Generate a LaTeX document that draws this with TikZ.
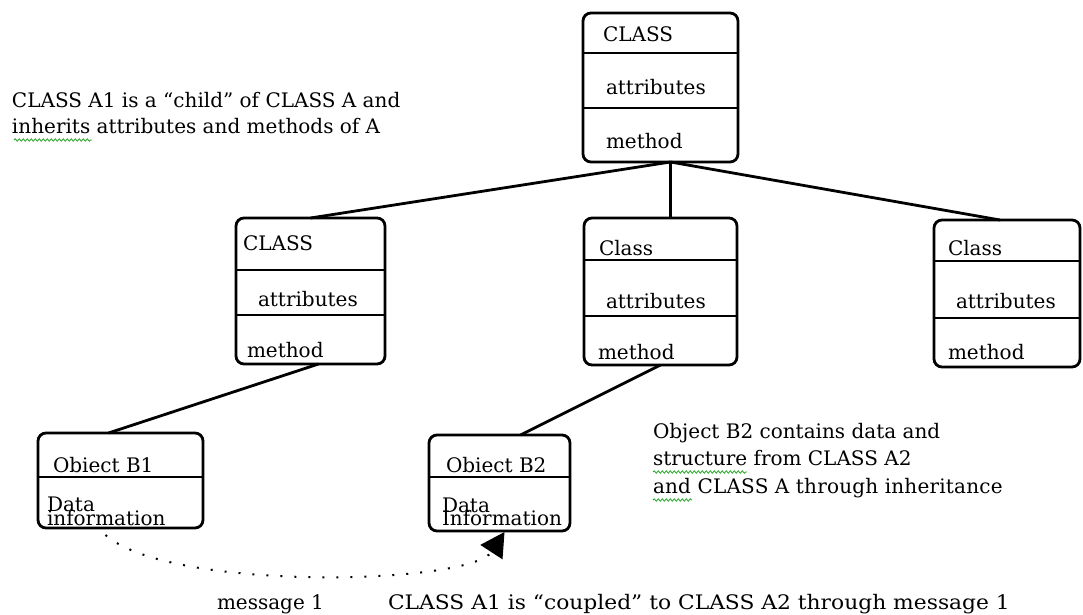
\documentclass[tikz,border=0pt]{standalone}
\usepackage{fontspec}
\setmainfont{DejaVu Serif}
\usetikzlibrary{arrows.meta,calc,decorations.pathmorphing}
\definecolor{spell}{RGB}{40,165,40}
\begin{document}
\begin{tikzpicture}[x=1pt,y=-1pt,
  every node/.style={font=\fontsize{20}{22}\selectfont, inner sep=0pt, outer sep=0pt, anchor=base west},
  box/.style={draw, line width=2.8pt, rounded corners=8pt, anchor=north west, minimum width=#1},
  divider/.style={line width=2.8pt},
  link/.style={line width=2.8pt},
  msg/.style={line width=2pt, dash pattern=on 2pt off 12pt, -{Triangle[length=24pt,width=26pt]}},
  squiggle/.style={spell, line width=0.8pt, decorate, decoration={snake, amplitude=1.2pt, segment length=4pt}}]
\useasboundingbox (0,0) rectangle (1083,615);

% class boxes
\node[box=155pt, minimum height=149pt] (A)  at (583,13)  {};
\node[box=149pt, minimum height=146pt] (A1) at (236,218) {};
\node[box=153pt, minimum height=147pt] (A2) at (584,218) {};
\node[box=146pt, minimum height=147pt] (A3) at (934,220) {};
% object boxes
\node[box=165pt, minimum height=95pt] (B1) at (38,433)  {};
\node[box=141pt, minimum height=96pt] (B2) at (429,435) {};

% compartment dividers
\draw[divider] (A.west |- 0,53)  -- (A.east |- 0,53);
\draw[divider] (A.west |- 0,108) -- (A.east |- 0,108);
\draw[divider] (A1.west |- 0,270) -- (A1.east |- 0,270);
\draw[divider] (A1.west |- 0,315) -- (A1.east |- 0,315);
\draw[divider] (A2.west |- 0,260) -- (A2.east |- 0,260);
\draw[divider] (A2.west |- 0,316) -- (A2.east |- 0,316);
\draw[divider] (A3.west |- 0,261) -- (A3.east |- 0,261);
\draw[divider] (A3.west |- 0,318) -- (A3.east |- 0,318);
\draw[divider] (B1.west |- 0,477) -- (B1.east |- 0,477);
\draw[divider] (B2.west |- 0,477) -- (B2.east |- 0,477);

% compartment texts
\node (At)  at (603,42)  {CLASS};
\node (Aa)  at (606,95)  {attributes};
\node (Am)  at (606,148) {method};
\node (A1t) at (243,250) {CLASS};
\node (A1a) at (258,306) {attributes};
\node (A1m) at (247,357) {method};
\node (A2t) at (599,255) {Class};
\node (A2a) at (606,308) {attributes};
\node (A2m) at (598,359) {method};
\node (A3t) at (948,255) {Class};
\node (A3a) at (956,308) {attributes};
\node (A3m) at (948,359) {method};
\node (B1t) at (53,472)  {Obiect B1};
\node (B1d) at (47,511)  {Data};
\node (B1i) at (47,525)  {information};
\node (B2t) at (446,472) {Obiect B2};
\node (B2d) at (442,512) {Data};
\node (B2i) at (442,525) {Information};

% inheritance links
\coordinate (J) at ($(A.south)+(10,0)$);
\draw[link] (J) -- (A1.north);
\draw[link] (J) -- ($(A2.north)+(10,0)$);
\draw[link] (J) -- ($(A3.north)+(-7,0)$);
\draw[link] ($(A1.south)+(8,0)$) -- ($(B1.north)+(-12,0)$);
\draw[link] (A2.south) -- ($(B2.north)+(21,0)$);

% message between the objects
\coordinate (m0) at ($(B1.south)+(-15,7)$);
\coordinate (m1) at ($(B2.south)+(5,1)$);
\draw[msg] (m0) .. controls (170,592) and (470,585) .. (m1);

% notes
\node (n1) at (12,107) {CLASS A1 is a “child” of CLASS A and};
\node (n2) at (12,133) {inherits attributes and methods of A};
\node (n3) at (653,438) {Object B2 contains data and};
\node (n4) at (653,465) {structure from CLASS A2};
\node (n5) at (653,493) {\addfontfeature{LetterSpace=1}and CLASS A through inheritance};
\node (n6) at (217,609) {message 1};
\node (n7) at (388,609) {\scalebox{1.09}[1]{CLASS A1 is “coupled” to CLASS A2 through message 1}};

% spelling marks
\draw[squiggle] (14,140) -- (92,140);
\draw[squiggle] (653,472) -- (747,472);
\draw[squiggle] (653,500) -- (692,500);
\end{tikzpicture}
\end{document}
